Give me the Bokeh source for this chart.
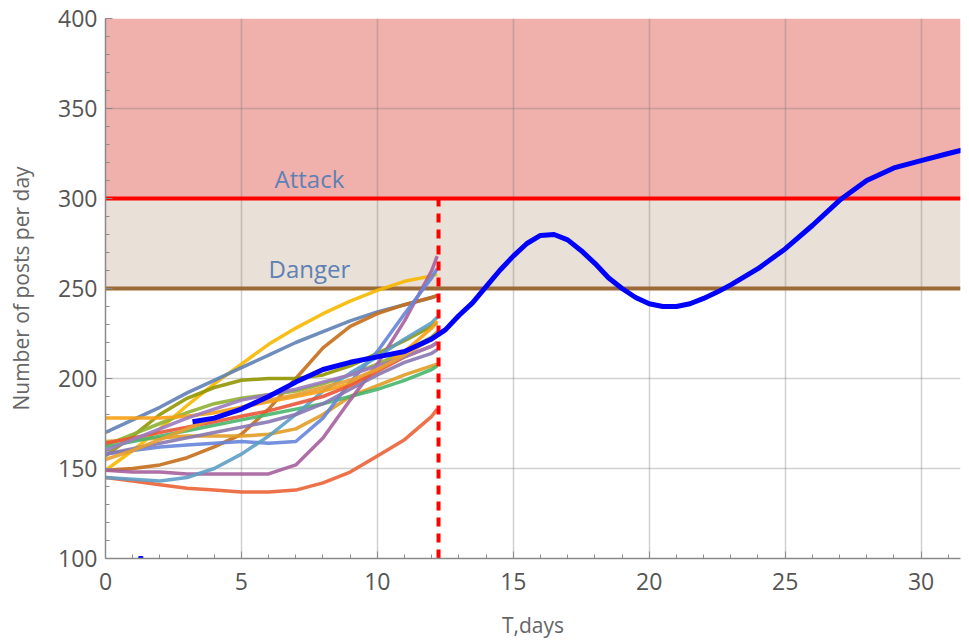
from bokeh.plotting import figure
from bokeh.models import ColumnDataSource, Range1d, FixedTicker, Label
from bokeh.embed import file_html
from bokeh.resources import INLINE

# ---------------- data ----------------
DANGER = 250
ATTACK = 300
Y_MIN, Y_MAX = 100, 400
X_MAX = 31.45
T_CUT = 12.25

ENS_T = [0, 1, 2, 3, 4, 5, 6, 7, 8, 9, 10, 11, 12, 12.2]

ens_yellow = [149, 160, 172, 185, 197, 208, 219, 228, 236, 243, 249, 254, 257, 258]
ens_steel = [170, 177, 184, 192, 199, 206, 213, 220, 226, 232, 237, 241, 245, 246]
ens_brown = [149, 150, 152, 156, 162, 169, 183, 200, 217, 229, 236, 241, 245, 246]
ens_olive = [157, 168, 180, 189, 195, 199, 200, 200, 202, 207, 214, 221, 229, 231]
ens_lgreen = [163, 169, 175, 181, 186, 189, 191, 193, 197, 202, 208, 215, 223, 226]
ens_orange = [165, 166, 167, 168, 168, 168, 169, 172, 180, 190, 196, 202, 207, 208]
ens_green = [162, 165, 168, 171, 174, 177, 180, 183, 186, 190, 194, 199, 205, 207]
ens_redor = [145, 143, 141, 139, 138, 137, 137, 138, 142, 148, 157, 166, 179, 183]
ens_mauve = [149, 148, 148, 147, 147, 147, 147, 152, 167, 188, 208, 232, 260, 268]
ens_cblue = [158, 160, 162, 163, 164, 165, 164, 165, 178, 198, 215, 236, 256, 261]
ens_mblue = [145, 144, 143, 145, 150, 158, 168, 180, 193, 203, 212, 222, 231, 234]
ens_purple = [158, 161, 164, 167, 170, 173, 176, 180, 186, 194, 202, 209, 214, 216]
ens_orange2 = [178, 178, 178, 179, 181, 184, 187, 190, 193, 197, 205, 215, 228, 232]
ens_red = [164, 167, 170, 173, 176, 179, 182, 186, 190, 196, 204, 212, 218, 220]
ens_purple2 = [160, 166, 172, 178, 183, 188, 191, 194, 198, 202, 207, 212, 218, 220]
ens_orange3 = [155, 160, 166, 172, 178, 184, 188, 191, 195, 199, 205, 213, 222, 225]

ENSEMBLE = [
    (ens_yellow, "#F7B800"), (ens_steel, "#5E81B5"), (ens_brown, "#C56E1A"),
    (ens_olive, "#929600"), (ens_lgreen, "#8FB032"), (ens_orange, "#E19C24"),
    (ens_green, "#47B66D"), (ens_redor, "#EB6235"), (ens_mauve, "#A5609D"),
    (ens_cblue, "#6685D9"), (ens_mblue, "#5D9EC7"), (ens_purple, "#8778B3"),
    (ens_orange2, "#F89F13"), (ens_red, "#E95536"), (ens_purple2, "#9A7BC0"),
    (ens_orange3, "#E8A030"),
]

MAIN_T = [3.2, 4, 5, 6, 7, 8, 9, 10, 11, 12, 12.5, 13, 13.5, 14, 14.5, 15, 15.5,
          16, 16.5, 17, 17.5, 18, 18.5, 19, 19.5, 20, 20.5, 21, 21.5, 22, 22.5,
          23, 24, 25, 26, 27, 28, 29, 30, 31, 31.8]
MAIN_Y = [176, 178, 183, 190, 198, 205, 209, 212, 215, 222, 227, 235, 242, 251,
          260, 268, 275, 279.5, 280, 277, 271, 264, 256, 250, 245, 241.5, 240,
          240, 241.5, 244.5, 248, 252, 261, 272, 285, 299, 310, 317, 321, 325, 328]

MARK_T = [1.3]
MARK_Y = [100]

X_TICKS = [0, 5, 10, 15, 20, 25, 30]
Y_TICKS = [100, 150, 200, 250, 300, 350, 400]

# ---------------- figure ----------------
p = figure(width=962, height=641, output_backend="svg", toolbar_location=None,
           x_range=Range1d(0, X_MAX), y_range=Range1d(Y_MIN, Y_MAX),
           min_border_left=105, min_border_right=2, min_border_top=18,
           min_border_bottom=83)
p.outline_line_color = None
p.background_fill_color = "white"

# bands
bands = ColumnDataSource(dict(bottom=[DANGER, ATTACK], top=[ATTACK, Y_MAX],
                              color=["#E9E0D7", "#F0B0AC"]))
p.quad(left=0, right=X_MAX, bottom="bottom", top="top", fill_color="color",
       line_color=None, source=bands, level="image")

# grid
for g in (p.xgrid, p.ygrid):
    g.grid_line_color = "#7a7a7a"
    g.grid_line_alpha = 0.35
    g.grid_line_width = 1.5
p.xgrid.ticker = FixedTicker(ticks=X_TICKS[1:])
p.ygrid.ticker = FixedTicker(ticks=Y_TICKS[1:])

# threshold lines
p.line([0, X_MAX], [DANGER, DANGER], line_color="#9C6A36", line_width=4)
p.line([0, X_MAX], [ATTACK, ATTACK], line_color="#FF0000", line_width=4)

# ensemble
for ys, col in ENSEMBLE:
    p.line(ENS_T, ys, line_color=col, line_width=3.5, line_alpha=0.9,
           line_join="round")

# vertical dashed cut
p.line([T_CUT, T_CUT], [Y_MIN, ATTACK], line_color="#FF0000", line_width=4,
       line_dash="9 7")

# main forecast
p.line(MAIN_T, MAIN_Y, line_color="#0000FF", line_width=5, line_join="round")
p.scatter(MARK_T, MARK_Y, marker="square", size=4, color="#0000FF")

# labels
p.add_layout(Label(x=7.5, y=311, text="Attack", text_align="center",
                   text_baseline="middle", text_color="#5E81B5",
                   text_font="Open Sans", text_font_size="24px"))
p.add_layout(Label(x=7.5, y=261, text="Danger", text_align="center",
                   text_baseline="middle", text_color="#5E81B5",
                   text_font="Open Sans", text_font_size="24px"))

# axes
for ax in (p.xaxis[0], p.yaxis[0]):
    ax.axis_line_color = "#8a8a8a"
    ax.axis_line_width = 1.5
    ax.major_tick_line_color = "#8a8a8a"
    ax.minor_tick_line_color = "#8a8a8a"
    ax.major_tick_in = 7
    ax.major_tick_out = 0
    ax.minor_tick_in = 4
    ax.minor_tick_out = 0
    ax.major_label_text_font = "Open Sans"
    ax.major_label_text_font_size = "23px"
    ax.major_label_text_color = "#555555"
    ax.axis_label_text_font = "Open Sans"
    ax.axis_label_text_font_size = "21px"
    ax.axis_label_text_color = "#666666"
    ax.axis_label_text_font_style = "normal"

p.xaxis.ticker = FixedTicker(ticks=X_TICKS, minor_ticks=list(range(0, 32)))
p.yaxis.ticker = FixedTicker(ticks=Y_TICKS, minor_ticks=list(range(100, 401, 10)))
p.xaxis.axis_label = "T,days"
p.yaxis.axis_label = "Number of posts per day"
p.xaxis.major_label_standoff = 14
p.yaxis.major_label_standoff = 8
p.xaxis.axis_label_standoff = 18
p.yaxis.axis_label_standoff = 20

open("out.html", "w").write(file_html(p, INLINE))
